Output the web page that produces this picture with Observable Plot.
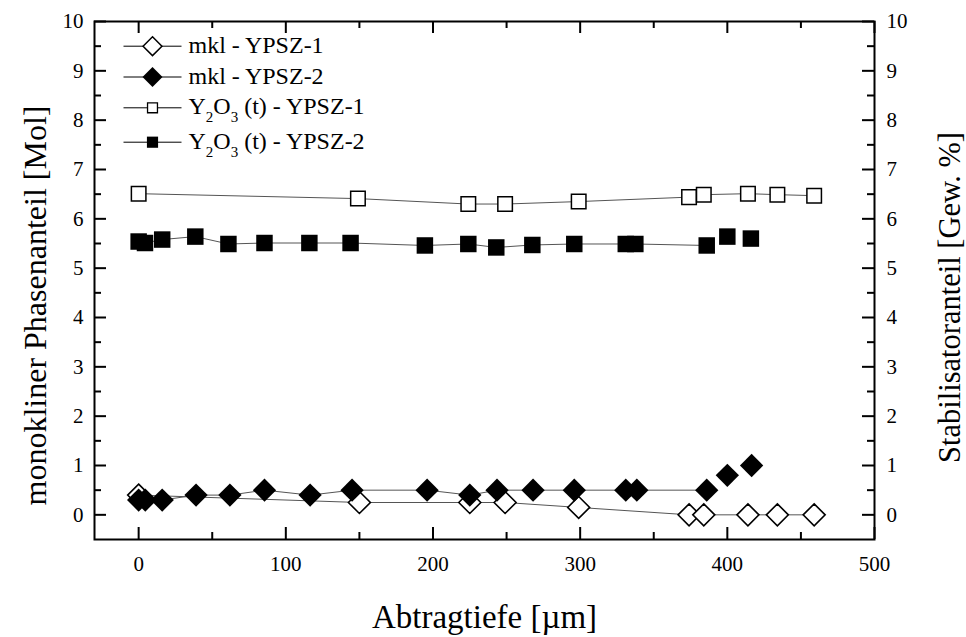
<!DOCTYPE html>
<html><head><meta charset="utf-8">
<script src="https://cdn.jsdelivr.net/npm/d3@7"></script>
<script src="https://cdn.jsdelivr.net/npm/@observablehq/plot@0.6"></script>
<style>body{margin:0;background:#fff} svg{display:block} svg text{font-family:'Liberation Serif','Times New Roman',serif}</style>
</head><body><div id="chart"></div>
<script>
// ---- data ----
const depthMkl1 = [0, 150, 225, 249, 299, 374, 384, 414, 434, 459];
const mkl1      = [0.4, 0.25, 0.25, 0.25, 0.15, 0, 0, 0, 0, 0];

const depthMkl2 = [0, 4.5, 16, 39, 62, 85.5, 116.5, 145, 196, 225, 243.5, 268, 296, 331, 338.5, 386, 400, 416.5];
const mkl2      = [0.3, 0.3, 0.3, 0.4, 0.4, 0.5, 0.4, 0.5, 0.5, 0.4, 0.5, 0.5, 0.5, 0.5, 0.5, 0.5, 0.8, 1.0];
const mkl2Connected = 16;

const depthY1 = [0, 149, 224, 249, 299, 374, 384, 414, 434, 459];
const y2o3_1  = [6.51, 6.41, 6.30, 6.30, 6.35, 6.44, 6.49, 6.51, 6.49, 6.47];

const depthY2 = [0, 4.3, 16, 38.5, 61, 85.5, 116, 144, 194.5, 224, 243, 267.5, 296, 331, 337.5, 386, 400, 416];
const y2o3_2  = [5.54, 5.51, 5.58, 5.64, 5.49, 5.51, 5.51, 5.51, 5.46, 5.49, 5.42, 5.47, 5.49, 5.49, 5.49, 5.46, 5.64, 5.60];
const y2o3_2Connected = 16;

const legendLabels = ["mkl - YPSZ-1", "mkl - YPSZ-2", "Y2O3 (t) - YPSZ-1", "Y2O3 (t) - YPSZ-2"];
const xMajorTicks = [0, 100, 200, 300, 400, 500];
const xMinorTicks = [50, 150, 250, 350, 450];
const yMajorTicks = [0, 1, 2, 3, 4, 5, 6, 7, 8, 9, 10];
const yMinorTicks = [0.5, 1.5, 2.5, 3.5, 4.5, 5.5, 6.5, 7.5, 8.5, 9.5];
const xTitle = "Abtragtiefe [\u00b5m]";
const yTitleLeft = "monokliner Phasenanteil [Mol]";
const yTitleRight = "Stabilisatoranteil [Gew. %]";

// ---- layout ----
const W = 966, H = 637, mL = 94, mR = 92, mT = 21, mB = 98;
const plotW = W - mL - mR, plotH = H - mT - mB;
const font = "Liberation Serif";
const lineColor = "#555";

const pts = (xs, ys) => xs.map((x, i) => ({x, y: ys[i]}));
const sMkl1 = pts(depthMkl1, mkl1);
const sMkl2 = pts(depthMkl2, mkl2);
const sY1 = pts(depthY1, y2o3_1);
const sY2 = pts(depthY2, y2o3_2);

const legendLine = {draw(ctx) { ctx.moveTo(-29, 0); ctx.lineTo(29, 0); }};
const legendStyle = [
  {symbol: "diamond2", fill: "white", stroke: "black", strokeWidth: 1.5, r: 8.5},
  {symbol: "diamond2", fill: "black", stroke: "none", strokeWidth: 0, r: 9},
  {symbol: "square", fill: "white", stroke: "black", strokeWidth: 1.3, r: 5.6},
  {symbol: "square", fill: "black", stroke: "none", strokeWidth: 0, r: 6.3}
];
const legendDy = [24.7, 55.5, 86.3, 120.7];

const legendMarks = legendLabels.flatMap((lab, i) => [
  Plot.dot([0], {frameAnchor: "top-left", dx: 58, dy: legendDy[i], symbol: legendLine, stroke: "black", strokeWidth: 1, fill: "none"}),
  Plot.dot([0], {frameAnchor: "top-left", dx: 58, dy: legendDy[i], ...legendStyle[i]}),
  Plot.text([lab], {frameAnchor: "top-left", dx: 94, dy: legendDy[i] - 1, text: d => d, textAnchor: "start", lineAnchor: "middle", fontSize: 24, fontFamily: font, fill: "black"})
]);

const chart = Plot.plot({
  width: W, height: H,
  marginLeft: mL, marginRight: mR, marginTop: mT, marginBottom: mB,
  style: {fontFamily: font, fontSize: "21px", color: "black", background: "white"},
  x: {domain: [-30, 500], axis: null},
  y: {domain: [-0.5, 10], axis: null},
  marks: [
    // series lines
    Plot.line(sY1, {x: "x", y: "y", stroke: lineColor, strokeWidth: 1}),
    Plot.line(sY2.slice(0, y2o3_2Connected), {x: "x", y: "y", stroke: lineColor, strokeWidth: 1}),
    Plot.line(sMkl1, {x: "x", y: "y", stroke: lineColor, strokeWidth: 1}),
    Plot.line(sMkl2.slice(0, mkl2Connected), {x: "x", y: "y", stroke: lineColor, strokeWidth: 1}),
    // symbols
    Plot.dot(sY1, {x: "x", y: "y", symbol: "square", r: 8.2, fill: "white", stroke: "black", strokeWidth: 1.5}),
    Plot.dot(sY2, {x: "x", y: "y", symbol: "square", r: 9.3, fill: "black", stroke: "none"}),
    Plot.dot(sMkl1, {x: "x", y: "y", symbol: "diamond2", r: 9.9, fill: "white", stroke: "black", strokeWidth: 1.6}),
    Plot.dot(sMkl2, {x: "x", y: "y", symbol: "diamond2", r: 10.5, fill: "black", stroke: "none"}),
    // inward ticks
    Plot.tickY(yMajorTicks, {y: d => d, insetRight: plotW - 12, stroke: "black", strokeWidth: 2}),
    Plot.tickY(yMinorTicks, {y: d => d, insetRight: plotW - 7, stroke: "black", strokeWidth: 2}),
    Plot.tickY(yMajorTicks, {y: d => d, insetLeft: plotW - 12, stroke: "black", strokeWidth: 2}),
    Plot.tickY(yMinorTicks, {y: d => d, insetLeft: plotW - 7, stroke: "black", strokeWidth: 2}),
    Plot.tickX(xMajorTicks, {x: d => d, insetTop: plotH - 12, stroke: "black", strokeWidth: 2}),
    Plot.tickX(xMinorTicks, {x: d => d, insetTop: plotH - 7, stroke: "black", strokeWidth: 2}),
    Plot.tickX(xMajorTicks, {x: d => d, insetBottom: plotH - 12, stroke: "black", strokeWidth: 2}),
    Plot.tickX(xMinorTicks, {x: d => d, insetBottom: plotH - 7, stroke: "black", strokeWidth: 2}),
    // tick labels
    Plot.axisY(yMajorTicks, {anchor: "left", tickSize: 0, tickPadding: 11, fontSize: 21, fontFamily: font, fontVariant: "normal", label: null, fill: "black"}),
    Plot.axisY(yMajorTicks, {anchor: "right", tickSize: 0, tickPadding: 12, fontSize: 21, fontFamily: font, fontVariant: "normal", label: null, fill: "black"}),
    Plot.axisX(xMajorTicks, {anchor: "bottom", tickSize: 0, tickPadding: 17, fontSize: 21, fontFamily: font, fontVariant: "normal", label: null, fill: "black"}),
    Plot.frame({stroke: "black", strokeWidth: 2}),
    // axis titles
    Plot.text([yTitleLeft], {frameAnchor: "left", dx: -59, dy: 25, rotate: -90, text: d => d, fontSize: 32, fontFamily: font, textAnchor: "middle", lineAnchor: "middle", fill: "black"}),
    Plot.text([yTitleRight], {frameAnchor: "right", dx: 76, dy: 17, rotate: -90, text: d => d, fontSize: 30.5, fontFamily: font, textAnchor: "middle", lineAnchor: "middle", fill: "black"}),
    Plot.text([xTitle], {frameAnchor: "bottom", dy: 78, text: d => d, fontSize: 33, fontFamily: font, textAnchor: "middle", lineAnchor: "middle", fill: "black"}),
    ...legendMarks
  ]
});

// subscripts in the Y2O3 legend entries
d3.select(chart).selectAll("text").each(function() {
  const t = this.textContent;
  if (t.startsWith("Y2O3")) {
    const rest = t.slice(4);
    const s = d3.select(this);
    s.text("");
    s.append("tspan").text("Y");
    s.append("tspan").attr("dy", 8).attr("font-size", 15).text("2");
    s.append("tspan").attr("dy", -8).text("O");
    s.append("tspan").attr("dy", 8).attr("font-size", 15).text("3");
    s.append("tspan").attr("dy", -8).text(rest);
  }
});

document.getElementById("chart").appendChild(chart);
</script>
</body></html>
